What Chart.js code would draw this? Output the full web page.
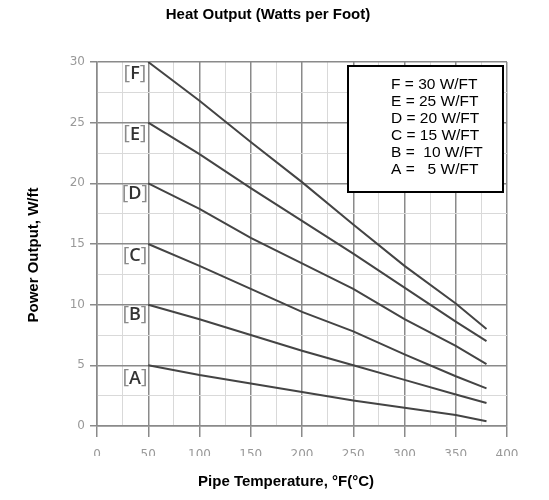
<!DOCTYPE html>
<html>
<head>
<meta charset="utf-8">
<script src="https://cdn.jsdelivr.net/npm/chart.js@4/dist/chart.umd.min.js"></script>
<style>
  html,body{margin:0;padding:0;background:#fff;}
  #wrap{width:549px;height:500px;position:relative;}
</style>
</head>
<body>
<div id="wrap"><canvas id="c"></canvas></div>
<script>
const temps = [50, 100, 150, 200, 250, 300, 350, 380];
const seriesF = [30, 26.8, 23.4, 20.1, 16.6, 13.2, 10.1, 8.0];
const seriesE = [25, 22.4, 19.6, 16.9, 14.2, 11.4, 8.6, 7.0];
const seriesD = [20, 17.9, 15.5, 13.4, 11.3, 8.8, 6.6, 5.1];
const seriesC = [15, 13.2, 11.3, 9.4, 7.8, 5.9, 4.1, 3.1];
const seriesB = [10, 8.8, 7.5, 6.2, 5.0, 3.8, 2.6, 1.9];
const seriesA = [5, 4.2, 3.5, 2.8, 2.1, 1.5, 0.9, 0.4];
const curveNames = ['F', 'E', 'D', 'C', 'B', 'A'];
const labelY = [29.1, 24.1, 19.2, 14.1, 9.2, 4.0];
const legendLines = ['F = 30 W/FT', 'E = 25 W/FT', 'D = 20 W/FT', 'C = 15 W/FT', 'B =  10 W/FT', 'A =   5 W/FT'];

const allSeries = [seriesF, seriesE, seriesD, seriesC, seriesB, seriesA];
const major = '#8a8a8a', minor = '#d9d9d9';

const datasets = allSeries.map((s, i) => ({
  label: curveNames[i],
  data: s.map((v, j) => ({x: temps[j], y: v})),
  borderColor: '#444',
  borderWidth: 2,
  pointRadius: 0,
  tension: 0
}));

// bracket labels, legend box and titles
const decorPlugin = {
  id: 'decor',
  afterDatasetsDraw(chart) {
    const {ctx, scales: {x, y}} = chart;
    ctx.save();
    ctx.textBaseline = 'middle';
    const bFont = '20px "Open Sans"', lFont = '600 18px "Open Sans"';
    curveNames.forEach((n, i) => {
      const cx = x.getPixelForValue(37), cy = y.getPixelForValue(labelY[i]);
      ctx.font = bFont;
      const bw = ctx.measureText('[').width;
      ctx.font = lFont;
      const lw = ctx.measureText(n).width;
      let px = cx - (bw * 2 + lw) / 2;
      ctx.textAlign = 'left';
      ctx.font = bFont;
      ctx.fillStyle = '#8a8a8a';
      ctx.fillText('[', px, cy);
      ctx.font = lFont;
      ctx.fillStyle = '#333';
      ctx.fillText(n, px + bw, cy + 1);
      ctx.font = bFont;
      ctx.fillStyle = '#8a8a8a';
      ctx.fillText(']', px + bw + lw, cy);
    });

    // legend box
    ctx.fillStyle = '#fff';
    ctx.fillRect(348, 66, 155, 126);
    ctx.strokeStyle = '#000';
    ctx.lineWidth = 2;
    ctx.strokeRect(348, 66, 155, 126);
    ctx.fillStyle = '#000';
    ctx.font = '15.5px "Liberation Sans", Arial';
    ctx.textAlign = 'left';
    legendLines.forEach((t, i) => ctx.fillText(t, 391, 85 + i * 17));

    // titles
    ctx.font = 'bold 15px "Liberation Sans", Arial';
    ctx.textAlign = 'center';
    ctx.fillText('Heat Output (Watts per Foot)', 268, 15);
    ctx.fillText('Pipe Temperature, °F(°C)', 286, 482);
    ctx.translate(34, 255);
    ctx.rotate(-Math.PI / 2);
    ctx.fillText('Power Output, W/ft', 0, 0);
    ctx.restore();
  }
};

new Chart(document.getElementById('c'), {
  type: 'line',
  data: { datasets },
  options: {
    responsive: true,
    maintainAspectRatio: false,
    animation: false,
    layout: { padding: { left: 57, right: 42, top: 62, bottom: 44 } },
    plugins: { legend: { display: false }, tooltip: { enabled: false }, title: { display: false } },
    scales: {
      x: {
        type: 'linear', min: 0, max: 400,
        afterFit: s => { s.height = 30; },
        ticks: {
          stepSize: 25, autoSkip: false, maxRotation: 0, padding: 11,
          color: '#999', font: { family: '"DejaVu Sans"', size: 12 },
          callback: v => v % 50 === 0 ? v : ''
        },
        grid: {
          color: c => c.tick && c.tick.value % 50 === 0 ? major : minor,
          tickColor: c => c.tick && c.tick.value % 50 === 0 ? major : 'rgba(0,0,0,0)',
          lineWidth: c => c.tick && c.tick.value % 50 === 0 ? 1.5 : 1,
          tickLength: 11
        },
        border: { color: major, width: 1.5 }
      },
      y: {
        min: 0, max: 30,
        afterFit: s => { s.width = 40; },
        ticks: {
          stepSize: 2.5, autoSkip: false, padding: 5,
          color: '#999', font: { family: '"DejaVu Sans"', size: 12 },
          callback: v => v % 5 === 0 ? v : ''
        },
        grid: {
          color: c => c.tick && c.tick.value % 5 === 0 ? major : minor,
          tickColor: c => c.tick && c.tick.value % 5 === 0 ? major : 'rgba(0,0,0,0)',
          lineWidth: c => c.tick && c.tick.value % 5 === 0 ? 1.5 : 1,
          tickLength: 7
        },
        border: { color: major, width: 1.5 }
      }
    }
  },
  plugins: [decorPlugin]
});
</script>
</body>
</html>
